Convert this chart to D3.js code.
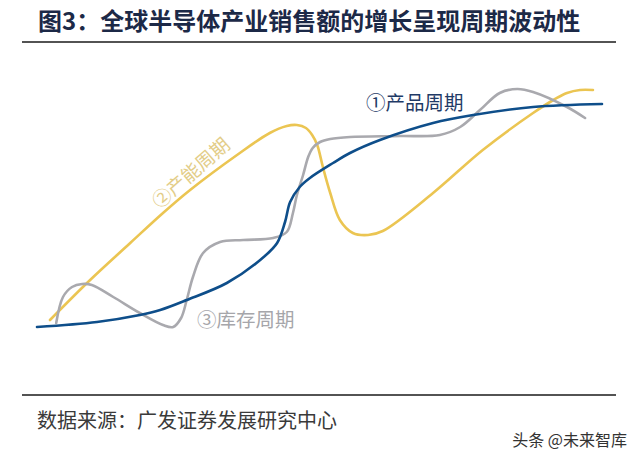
<!DOCTYPE html>
<html>
<head>
<meta charset="utf-8">
<script src="https://cdn.jsdelivr.net/npm/d3@7"></script>
<style>
  html, body { margin: 0; padding: 0; background: #fff; }
  svg { display: block; }
  text { font-family: "Noto Sans CJK SC", "Noto Sans", sans-serif; }
</style>
</head>
<body>
<svg id="chart" width="640" height="452"></svg>
<script>
// ---- Data (abstract time 0-100, level 0-100) ----
const productT = [0, 10.6, 18.2, 21.8, 26.5, 33.6, 39.5, 42.5, 43.9, 44.8, 46.5, 48.3, 52.4, 55.4, 60.7, 70.1, 77.2, 87.8, 100];
const productV = [1.2, 3.2, 6, 8, 12, 18.8, 28, 34.8, 43.2, 51.2, 57.2, 60.8, 66.8, 70.8, 76, 82.8, 86, 89.2, 90.4];

const capacityT = [2.3, 9.4, 16.5, 22.3, 27.1, 35.4, 41.2, 44.2, 46, 47.6, 48.7, 49.6, 50.6, 51.9, 53.6, 55.9, 58.6, 61.2, 70.1, 78.9, 87.8, 91.7, 93.8, 96.1, 98.4];
const capacityV = [4, 20, 34.8, 46.8, 56, 70, 78.8, 81.6, 82, 80.8, 78, 74, 65.2, 54.8, 44, 38.8, 38, 39.6, 54.8, 72, 86.8, 92.4, 94.8, 96, 96];

const inventoryT = [3.4, 4.6, 6.2, 8, 9.7, 13.5, 18.2, 22.3, 24.1, 25.5, 26.5, 27.6, 29.4, 32.4, 36.5, 41.8, 44.2, 45.3, 46, 47.1, 48, 48.8, 50.1, 51.9, 55.4, 64.2, 71.3, 74.9, 78.4, 81.9, 85, 87.8, 93.8, 97];
const inventoryV = [2.8, 13.2, 17.2, 18.4, 18, 13.2, 6.8, 2, 1.2, 4.8, 12, 21.2, 30.8, 35.2, 36, 36.8, 39.2, 46.8, 54, 62, 69.2, 72.8, 75.2, 76.4, 77.2, 77.6, 78, 81.2, 88, 94.8, 96.4, 95.2, 89.2, 84.8];

const seriesNames = ["①产品周期", "②产能周期", "③库存周期"];
const titleText = "图3：全球半导体产业销售额的增长呈现周期波动性";
const sourceText = "数据来源：广发证券发展研究中心";
const watermarkText = "头条 @未来智库";

// ---- Drawing ----
const svg = d3.select("#chart");
const x = d3.scaleLinear().domain([0, 100]).range([37, 602]);
const y = d3.scaleLinear().domain([0, 100]).range([330, 80]);

const zip = (ts, vs) => ts.map((t, i) => ({ t, v: vs[i] }));
const line = d3.line().x(d => x(d.t)).y(d => y(d.v)).curve(d3.curveCatmullRom.alpha(0.5));

// Title
svg.append("text")
  .attr("x", 38).attr("y", 30)
  .attr("font-size", 24).attr("font-weight", "bold")
  .attr("fill", "#1c2947")
  .text(titleText);

svg.append("line").attr("x1", 22).attr("x2", 616).attr("y1", 42).attr("y2", 42)
  .attr("stroke", "#1a1a1a").attr("stroke-width", 1.5);

// Curves
const curves = [
  { data: zip(capacityT, capacityV), color: "#ebc552" },
  { data: zip(inventoryT, inventoryV), color: "#a9a9ae" },
  { data: zip(productT, productV), color: "#0e4e8a" }
];
svg.append("g").selectAll("path").data(curves).join("path")
  .attr("d", d => line(d.data))
  .attr("fill", "none")
  .attr("stroke", d => d.color)
  .attr("stroke-width", 2.6)
  .attr("stroke-linecap", "round");

// Series labels
svg.append("text")
  .attr("x", 366).attr("y", 110)
  .attr("font-size", 19.5).attr("fill", "#1f3a66")
  .text(seriesNames[0]);

svg.append("text")
  .attr("transform", "translate(191,173) rotate(-41)")
  .attr("text-anchor", "middle").attr("dy", "0.35em")
  .attr("font-size", 19).attr("fill", "#e3cd88")
  .text(seriesNames[1]);

svg.append("text")
  .attr("x", 197).attr("y", 327)
  .attr("font-size", 19.5).attr("fill", "#a6a6aa")
  .text(seriesNames[2]);

// Footer
svg.append("line").attr("x1", 22).attr("x2", 616).attr("y1", 395).attr("y2", 395)
  .attr("stroke", "#1a1a1a").attr("stroke-width", 1.5);

svg.append("text")
  .attr("x", 37).attr("y", 428)
  .attr("font-size", 20).attr("fill", "#3a3a3a")
  .text(sourceText);

svg.append("text")
  .attr("x", 627).attr("y", 446).attr("text-anchor", "end")
  .attr("font-size", 16).attr("fill", "#333")
  .text(watermarkText);
</script>
</body>
</html>
